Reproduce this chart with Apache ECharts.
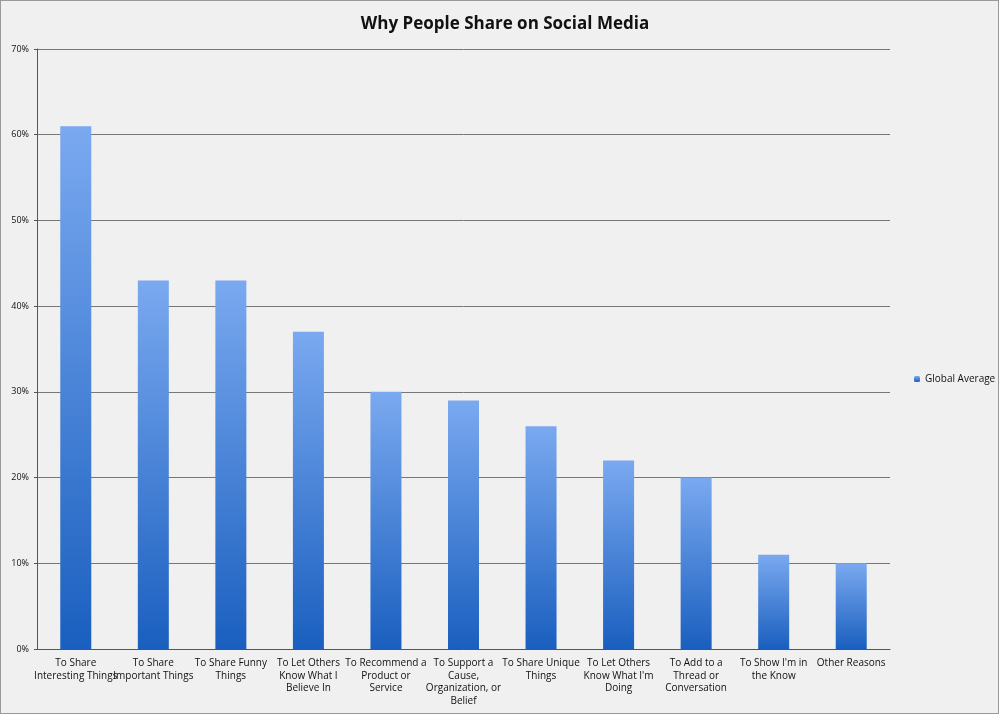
<!DOCTYPE html>
<html><head><meta charset="utf-8">
<script src="https://cdn.jsdelivr.net/npm/echarts@6/dist/echarts.min.js"></script>
<style>html,body{margin:0;padding:0;background:#f0f0f0}#main{width:999px;height:714px;box-sizing:border-box;border:1px solid #999}</style>
</head><body><div id="main"></div>
<script>
var categories = ['To Share\nInteresting Things','To Share\nImportant Things','To Share Funny\nThings','To Let Others\nKnow What I\nBelieve In','To Recommend a\nProduct or\nService','To Support a\nCause,\nOrganization, or\nBelief','To Share Unique\nThings','To Let Others\nKnow What I\'m\nDoing','To Add to a\nThread or\nConversation','To Show I\'m in\nthe Know','Other Reasons'];
var globalAverage = [61, 43, 43, 37, 30, 29, 26, 22, 20, 11, 10];

var myChart = echarts.init(document.getElementById('main'));
myChart.setOption({
  backgroundColor: '#f0f0f0',
  textStyle: { fontFamily: 'Open Sans' },
  title: { text: 'Why People Share on Social Media', left: 499, top: 10, textAlign: 'center',
    textStyle: { fontSize: 17, fontWeight: 'bold', color: '#111' } },
  legend: { data: ['Global Average'], left: 908, top: 368, itemWidth: 6, itemHeight: 6, itemGap: 4,
    textStyle: { fontSize: 10, color: '#111' } },
  grid: { left: 36, right: 108, top: 48, bottom: 64, containLabel: false },
  xAxis: { type: 'category', data: categories,
    axisLine: { lineStyle: { color: '#555' } }, axisTick: { show: false },
    axisLabel: { interval: 0, fontSize: 10, color: '#111', lineHeight: 12.5, margin: 8 } },
  yAxis: { type: 'value', min: 0, max: 70, interval: 10,
    axisLabel: { formatter: '{value}%', fontSize: 9, color: '#111' },
    axisLine: { show: true, lineStyle: { color: '#555' } },
    axisTick: { show: true, length: 3, lineStyle: { color: '#555' } },
    splitLine: { lineStyle: { color: '#777' } } },
  series: [{ name: 'Global Average', type: 'bar', data: globalAverage, barWidth: 31,
    itemStyle: { color: new echarts.graphic.LinearGradient(0, 0, 0, 1, [
      { offset: 0, color: '#7aa9f0' }, { offset: 1, color: '#1a5fbf' }]) } }]
});
</script></body></html>
